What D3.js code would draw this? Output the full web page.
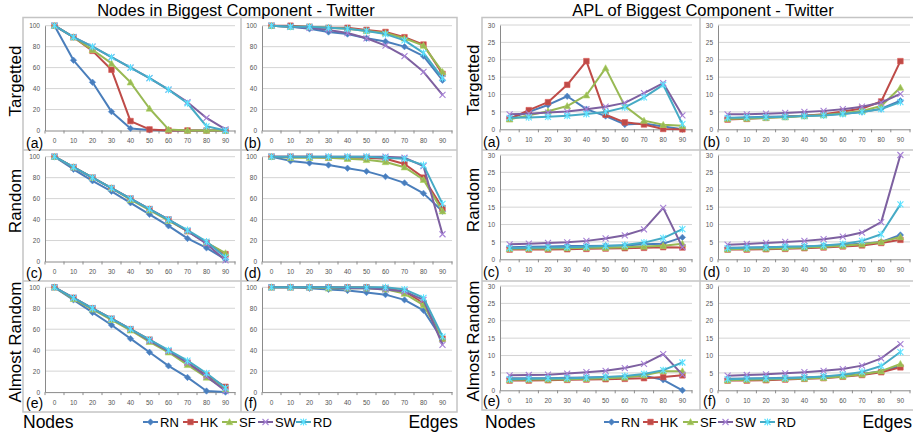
<!DOCTYPE html>
<html><head><meta charset="utf-8">
<script src="https://cdn.jsdelivr.net/npm/d3@7"></script>
<style>body{margin:0;background:#fff}svg{display:block}</style></head>
<body><svg id="c" width="913" height="434"></svg>
<script>
const categories = ["0","10","20","30","40","50","60","70","80","90"];
const seriesNames = ["RN","HK","SF","SW","RD"];
const nodeTicks = [0,20,40,60,80,100];
const aplTicks = [0,5,10,15,20,25,30];
const rowNames = ["Targetted","Random","Almost Random"];
const panelLetters = ["(a)","(b)","(c)","(d)","(e)","(f)"];

// Nodes in biggest component (%), series order RN, HK, SF, SW, RD
const nodesTargetted = [
  [100,67,46,18,2,0.5,0,0,0,0],
  [100,89,76,58,9,1,0,0,0,0],
  [100,89,77,64,46,21,1,0,0,0],
  [100,89,80,70,60,50,39,27,12,1],
  [100,89,80,70,60,50,39,26,4,0]];
const edgesTargetted = [
  [100,99,97,94,92,88,85,80,71,48],
  [100,100,99,98,98,96,94,89,82,54],
  [100,99,99,98,97,95,93,88,81,56],
  [100,99,98,96,93,88,81,71,56,34],
  [100,99,99,98,97,95,92,86,74,50]];
const nodesRandom = [
  [100,88,77,67,56,45,34,22,13,2],
  [100,90,80,70,60,50,40,29,18,7],
  [100,90,80,70,59,49,39,29,18,8],
  [100,90,80,70,60,50,40,29,17,1],
  [100,90,80,70,60,50,40,30,19,4]];
const edgesRandom = [
  [100,96,94,92,89,86,81,75,65,48],
  [100,100,100,99,99,99,98,93,80,51],
  [100,99,99,99,98,97,95,90,78,48],
  [100,100,100,100,100,100,100,99,91,26],
  [100,100,100,100,100,100,99,98,92,55]];
const nodesAlmost = [
  [100,88,76,64,51,38,25,14,1,0],
  [100,90,80,70,60,50,39,28,16,5],
  [100,89,79,69,59,48,38,26,14,3],
  [100,90,80,70,60,49,39,28,15,1],
  [100,90,80,70,60,50,40,30,18,4]];
const edgesAlmost = [
  [100,100,99,98,97,95,93,88,78,50],
  [100,100,100,100,100,100,99,96,85,51],
  [100,100,100,99,99,99,98,94,83,51],
  [100,100,100,100,99,99,98,96,88,45],
  [100,100,100,100,100,100,100,98,90,53]];

// APL of biggest component
const aplNodesTargetted = [
  [3.2,5,7,9.5,5.8,3.8,1.4,1.7,0.8,0],
  [3,5.5,7.8,12.8,19.6,4.2,2,1.4,0.1,0],
  [2.9,4,5.2,6.7,9.8,17.6,6.7,2.5,1.3,1],
  [4.3,4.5,4.8,5.1,5.8,6.5,7.6,10.4,13.3,4],
  [3.3,3.4,3.6,3.9,4.4,5,6.3,9.2,12.8,1.5]];
const aplEdgesTargetted = [
  [3.2,3.4,3.6,3.7,3.9,4.1,4.5,5,5.9,8.2],
  [2.8,3,3.3,3.6,3.9,4.3,5.1,6,8,19.6],
  [3,3.1,3.3,3.5,3.8,4.1,4.6,5.3,6.7,12],
  [4.3,4.3,4.5,4.7,5,5.3,5.8,6.5,7.7,10.2],
  [3.3,3.4,3.5,3.6,3.8,4,4.4,5,5.8,7.8]];
const aplNodesRandom = [
  [3.5,3.6,3.7,3.8,3.8,3.9,4,4.3,4.5,6.3],
  [2.8,2.8,2.8,2.9,3,3.1,3.2,3.3,3.5,3.4],
  [3,3.1,3.1,3.2,3.3,3.3,3.5,3.7,3.9,4.5],
  [4.3,4.5,4.7,4.9,5.3,6,6.9,8.6,14.8,3.5],
  [3.2,3.3,3.4,3.5,3.6,3.8,4.1,4.8,6.1,8.7]];
const aplEdgesRandom = [
  [3.3,3.4,3.5,3.6,3.7,3.9,4.2,4.5,5,7],
  [2.8,2.8,2.9,3,3.2,3.4,3.7,4,4.7,5.6],
  [2.9,3,3.1,3.2,3.4,3.6,3.9,4.3,5,6.4],
  [4.2,4.4,4.7,5,5.3,5.8,6.5,7.7,10.7,30],
  [3.2,3.3,3.4,3.6,3.7,4,4.4,5.3,7.2,15.8]];
const aplNodesAlmost = [
  [3.5,3.5,3.5,3.6,3.7,3.8,3.9,4.2,3,0],
  [2.8,2.8,2.9,3,3.1,3.2,3.3,3.5,3.8,4.3],
  [3,3.1,3.1,3.2,3.3,3.5,3.7,4.3,5.5,5.5],
  [4.3,4.4,4.5,4.8,5.2,5.6,6.4,7.6,10.4,4.5],
  [3.2,3.3,3.4,3.5,3.6,3.8,4.1,4.7,5.8,8]];
const aplEdgesAlmost = [
  [3.3,3.4,3.5,3.6,3.7,3.9,4.2,4.7,5.5,7],
  [2.8,2.8,2.9,3.1,3.3,3.5,3.9,4.4,5.2,6.6],
  [2.9,3,3.1,3.3,3.4,3.6,4,4.6,5.5,7.6],
  [4.2,4.4,4.6,4.9,5.2,5.6,6.1,7.1,9.2,13.3],
  [3.2,3.3,3.4,3.5,3.7,4,4.5,5.3,7,11]];

const colors = ["#4A7EBB","#BE4B48","#98B954","#7D60A0","#46AAC5"];
const FONT = "'Liberation Sans', Arial, Helvetica, sans-serif";
const svg = d3.select("#c");

function markerPath(i){
  const p = d3.path();
  if(i===0){ // diamond
    const r=3.2; p.moveTo(0,-r);p.lineTo(r,0);p.lineTo(0,r);p.lineTo(-r,0);p.closePath();
  } else if(i===1){ const r=2.8; p.rect(-r,-r,2*r,2*r); }
  else if(i===2){ const r=3.4; p.moveTo(0,-r);p.lineTo(r,r*0.8);p.lineTo(-r,r*0.8);p.closePath(); }
  else if(i===3){ const r=3; p.moveTo(-r,-r);p.lineTo(r,r);p.moveTo(r,-r);p.lineTo(-r,r); }
  else { const r=3; p.moveTo(-r,-r);p.lineTo(r,r);p.moveTo(r,-r);p.lineTo(-r,r);p.moveTo(0,-r-0.5);p.lineTo(0,r+0.5); }
  return p.toString();
}
function drawMarker(g,i,x,y){
  const filled = i<3;
  g.append("path").attr("d",markerPath(i)).attr("transform",`translate(${x},${y})`)
    .attr("fill",filled?colors[i]:"none").attr("stroke",filled?d3.color(colors[i]).brighter(0.4):d3.color(colors[i]).brighter(0.8))
    .attr("stroke-width",filled?0.6:1.1);
}

function panel(data, x0, y0, w, h, maxV, ticks){
  const g = svg.append("g");
  const x = d3.scaleBand().domain(categories).range([x0, x0+w]);
  const y = d3.scaleLinear().domain([0,maxV]).range([y0+h, y0]);
  ticks.forEach(t=>{
    if(t>0) g.append("line").attr("x1",x0).attr("x2",x0+w).attr("y1",y(t)).attr("y2",y(t)).attr("stroke","#d4d4d4").attr("stroke-width",1);
  });
  const ya = g.append("g").attr("transform",`translate(${x0},0)`)
    .call(d3.axisLeft(y).tickValues(ticks).tickSize(0).tickPadding(5));
  ya.select(".domain").attr("stroke","#8a8a8a");
  ya.selectAll("text").attr("font-size","6.5px").attr("font-family",FONT).attr("fill","#555");
  const xa = g.append("g").attr("transform",`translate(0,${y0+h})`)
    .call(d3.axisBottom(x).tickSize(0).tickPadding(8));
  xa.select(".domain").attr("stroke","#8a8a8a");
  xa.selectAll("text").attr("font-size","6.5px").attr("font-family",FONT).attr("fill","#555");
  categories.concat(["end"]).forEach((c,k)=>{
    const xx = x0 + k*x.step();
    g.append("line").attr("x1",xx).attr("x2",xx).attr("y1",y0+h).attr("y2",y0+h+3).attr("stroke","#8a8a8a");
  });
  const line = d3.line().x((d,k)=>x(categories[k])+x.bandwidth()/2).y(d=>y(d));
  data.forEach((s,i)=>{
    g.append("path").datum(s).attr("d",line).attr("fill","none").attr("stroke",colors[i]).attr("stroke-width",2).attr("stroke-linejoin","round");
    s.forEach((v,k)=>drawMarker(g,i,x(categories[k])+x.bandwidth()/2,y(v)));
  });
}

function text(t,x,y,size,anchor,rot){
  const el = svg.append("text").text(t).attr("font-family",FONT).attr("font-size",size+"px").attr("fill","#000")
    .attr("text-anchor",anchor||"start");
  if(rot){ el.attr("transform",`translate(${x},${y}) rotate(-90)`).attr("dominant-baseline","central"); }
  else el.attr("x",x).attr("y",y);
  return el;
}

const fr = "#c4c4c4";
function frame(x1,y1,x2,y2,vx,hy){
  svg.append("rect").attr("x",x1).attr("y",y1).attr("width",x2-x1).attr("height",y2-y1).attr("fill","none").attr("stroke",fr).attr("stroke-width",1.5);
  svg.append("line").attr("x1",vx).attr("x2",vx).attr("y1",y1).attr("y2",y2).attr("stroke",fr).attr("stroke-width",1.5);
  hy.forEach(h=>svg.append("line").attr("x1",x1).attr("x2",x2).attr("y1",h).attr("y2",h).attr("stroke",fr).attr("stroke-width",1.5));
}
frame(23,17.5,457,412,241,[150,281]);
frame(482,17.5,914,410,700,[150,281]);

const leftData = [[nodesTargetted,edgesTargetted],[nodesRandom,edgesRandom],[nodesAlmost,edgesAlmost]];
const rightData = [[aplNodesTargetted,aplEdgesTargetted],[aplNodesRandom,aplEdgesRandom],[aplNodesAlmost,aplEdgesAlmost]];
const leftX = [45,262], rightX = [500,718];
const leftTop = [25.7,156.7,287.3], rightTop = [25,155,286];

for(let r=0;r<3;r++){
  for(let c=0;c<2;c++){
    panel(leftData[r][c], leftX[c], leftTop[r], 190, 104.8, 100, nodeTicks);
    panel(rightData[r][c], rightX[c], rightTop[r], 192, 104.3, 30, aplTicks);
  }
}

text("Nodes in Biggest Component - Twitter",236,15.5,16.5,"middle");
text("APL of Biggest Component - Twitter",703,15.5,16.5,"middle");
const rowCy = [81,201,342];
rowNames.forEach((n,r)=>{ text(n,15,rowCy[r],17,"middle",true); text(n,473,rowCy[r]-1,17,"middle",true); });
const letterYL = [147.5,277.5,408];
const letterYR = [147,277,406];
for(let r=0;r<3;r++){
  text(panelLetters[r*2],26,letterYL[r],14);
  text(panelLetters[r*2+1],244,letterYL[r],14);
  text(panelLetters[r*2],483,letterYR[r],14);
  text(panelLetters[r*2+1],703,letterYR[r],14);
}
text("Nodes",23,428,17.5); text("Edges",458,428,17.5,"end");
text("Nodes",485,428,17.5); text("Edges",912,428,17.5,"end");
function legend(xs){
  const g = svg.append("g");
  seriesNames.forEach((n,i)=>{
    const lx = xs[i];
    g.append("line").attr("x1",lx).attr("x2",lx+15).attr("y1",422).attr("y2",422).attr("stroke",colors[i]).attr("stroke-width",2);
    drawMarker(g,i,lx+7.5,422);
    g.append("text").text(n).attr("x",lx+17).attr("y",426.5).attr("font-family",FONT).attr("font-size","13px");
  });
}
legend([143,183,222,258,296]);
legend([604,643,683,718,760]);
</script></body></html>
